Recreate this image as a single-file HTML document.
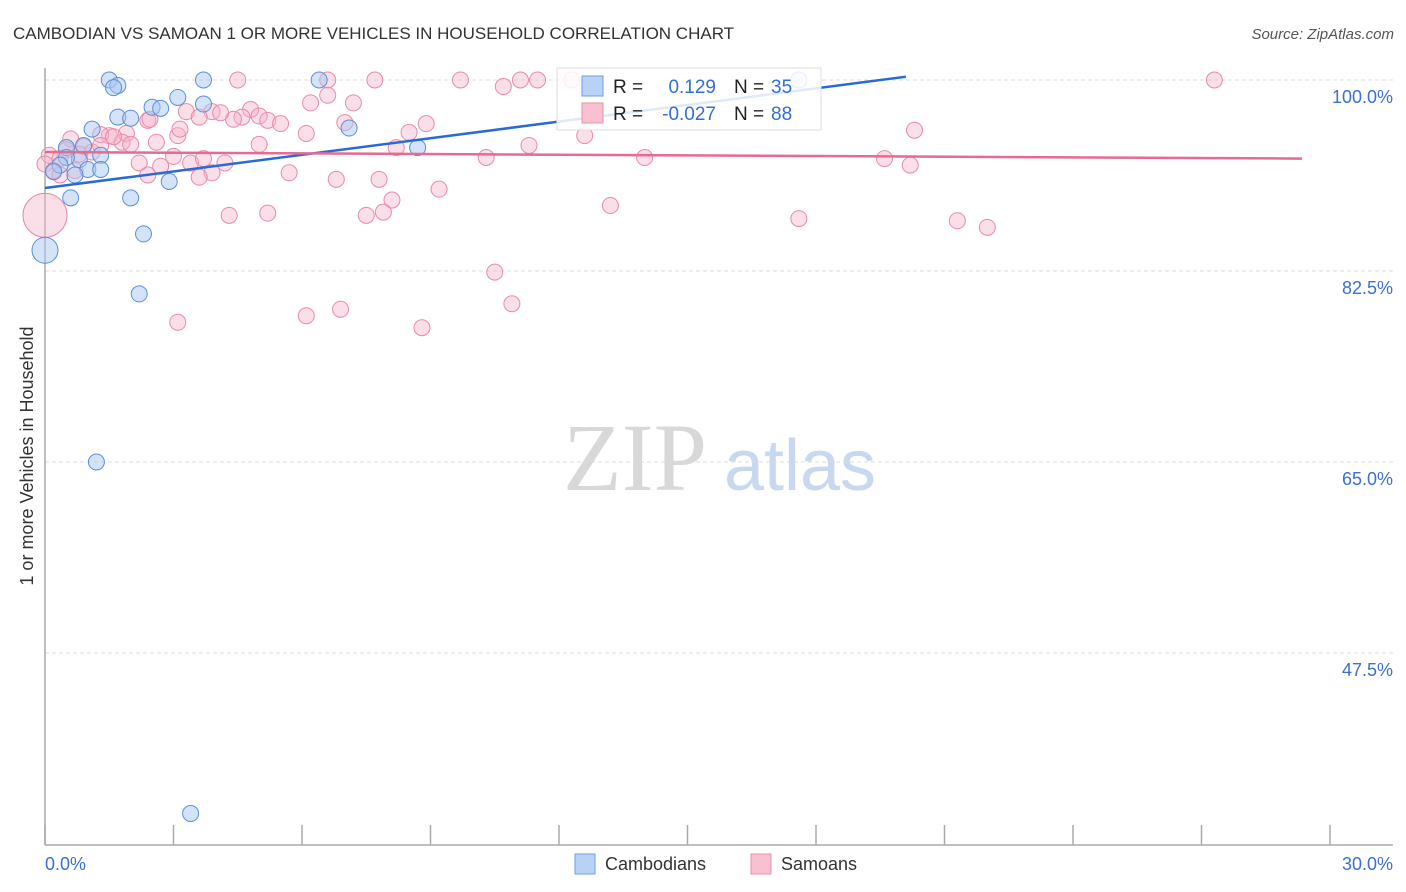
<!DOCTYPE html>
<html><head><meta charset="utf-8"><style>
body{margin:0;background:#fff;font-family:"Liberation Sans",sans-serif}
#wrap{position:relative;width:1406px;height:892px;overflow:hidden}
</style></head><body><div id="wrap">
<svg id="svg" width="1406" height="892" xmlns="http://www.w3.org/2000/svg" font-family="Liberation Sans, sans-serif">
<text x="13" y="39" font-size="17" fill="#333">CAMBODIAN VS SAMOAN 1 OR MORE VEHICLES IN HOUSEHOLD CORRELATION CHART</text>
<text x="1394" y="39" font-size="15" fill="#555" font-style="italic" text-anchor="end">Source: ZipAtlas.com</text>
<text x="33" y="456" font-size="18" fill="#333" text-anchor="middle" transform="rotate(-90 33 456)">1 or more Vehicles in Household</text>
<g><text x="635" y="490" font-size="96" fill="#d8d8d8" font-family="Liberation Serif, serif" text-anchor="middle">ZIP</text><text x="800" y="490" font-size="72" fill="#c8d8f0" text-anchor="middle">atlas</text></g>
<g id="grid"></g><g id="axes"></g><g id="pts"></g><g id="lines"></g>
<g>
<rect x="557" y="68" width="264" height="62" fill="#fff" fill-opacity="0.85" stroke="#ddd"/>
<rect x="582" y="76" width="21" height="20" fill="#b8d2f5" stroke="#6e9ee0"/>
<rect x="582" y="103" width="21" height="20" fill="#f8c0d0" stroke="#ea90aa"/>
<text x="613" y="93" font-size="19" fill="#222">R =</text><text x="716" y="93" font-size="19" fill="#2f6fd6" text-anchor="end">0.129</text>
<text x="734" y="93" font-size="19" fill="#222">N =</text><text x="771" y="93" font-size="19" fill="#2f6fd6">35</text>
<text x="613" y="120" font-size="19" fill="#222">R =</text><text x="716" y="120" font-size="19" fill="#2f6fd6" text-anchor="end">-0.027</text>
<text x="734" y="120" font-size="19" fill="#222">N =</text><text x="771" y="120" font-size="19" fill="#2f6fd6">88</text>
</g>
<g>
<rect x="575" y="854" width="20" height="20" fill="#b8d2f5" stroke="#6e9ee0"/>
<text x="605" y="870" font-size="18" fill="#333">Cambodians</text>
<rect x="751" y="854" width="20" height="20" fill="#f8c0d0" stroke="#ea90aa"/>
<text x="781" y="870" font-size="18" fill="#333">Samoans</text>
</g>
</svg></div>
<script>
const yTicks=[100,82.5,65,47.5];
const yTickLabels=["100.0%","82.5%","65.0%","47.5%"];
const xTickLabels=["0.0%","30.0%"];
const cambX=[1.5,1.7,1.6,3.7,6.4,17.6,3.1,2.5,2.7,3.7,1.7,2.0,7.1,1.1,8.7,0.5,0.9,1.3,0.8,0.5,0.35,0.2,1.0,1.3,0.7,2.9,0.6,2.0,2.3,0.0,2.2,1.2,3.4];
const cambY=[100,99.5,99.3,100,100,100,98.4,97.5,97.4,97.8,96.6,96.5,95.6,95.5,93.8,93.8,94.0,93.1,92.7,92.9,92.2,91.6,91.8,91.8,91.3,90.7,89.2,89.2,85.9,84.4,80.4,65.0,32.8];
const cambR=[8,8,8,8,8,8,8,8,8,8,8,8,8,8,8,8,8,8,8,8,8,8,8,8,8,8,8,8,8,13,8,8,8];
const samX=[4.5,6.6,7.7,9.7,11.1,11.5,12.3,27.3,10.7,6.6,6.2,7.2,4.8,3.9,3.3,4.6,5.0,3.6,5.2,5.5,4.4,7.0,4.1,8.9,8.5,6.1,1.9,1.5,1.3,0.6,3.1,20.3,2.4,12.6,11.3,5.0,8.2,1.8,2.0,2.6,0.9,1.1,0.5,3.0,2.2,3.4,3.7,4.2,2.7,10.3,14.0,19.6,20.2,0.1,0.35,0.0,2.4,3.9,3.6,5.7,6.8,7.8,9.2,8.1,7.9,7.5,5.2,4.3,13.2,17.6,21.3,22.0,0.2,0.0,10.5,10.9,6.9,6.1,3.1,8.8,0.8,1.6,0.35,1.3,0.7,2.45,3.15];
const samY=[100,100,100,100,100,100,100,100,99.4,98.6,97.9,97.9,97.3,97.1,97.1,96.6,96.7,96.6,96.3,96.0,96.4,96.1,97.0,96.0,95.2,95.1,95.1,94.9,95.0,94.6,94.9,95.4,96.3,94.9,94.0,94.1,93.8,94.3,94.1,94.3,93.9,93.4,93.6,93.0,92.4,92.4,92.8,92.4,92.1,92.9,92.9,92.8,92.2,93.1,92.8,92.3,91.3,91.5,91.1,91.5,90.9,90.9,90.0,89.0,87.9,87.6,87.8,87.6,88.5,87.3,87.1,86.5,91.7,87.6,82.4,79.5,79.0,78.4,77.8,77.3,93.2,94.8,91.3,94.0,91.7,96.4,95.5];
const samR=samX.map((v,i)=>i===73?22:8);
const cambTrend=[90.1,100.3];const cambTrendX=[0,20.1];
const samTrend=[93.4,92.8];const samTrendX=[0,29.35];
const X=v=>45+v/30*1285, Y=v=>80+(100-v)/17.5*191;
const NS="http://www.w3.org/2000/svg";
function mk(t,a,p){const e=document.createElementNS(NS,t);for(const k in a)e.setAttribute(k,a[k]);p.appendChild(e);return e;}
const grid=document.getElementById('grid'),axes=document.getElementById('axes'),pts=document.getElementById('pts'),lines=document.getElementById('lines');
yTicks.forEach((t,i)=>{
 const l=mk('line',{x1:45,x2:1393,y1:Y(t),y2:Y(t),stroke:'#ddd','stroke-dasharray':'4,3'},grid);
 
 
 const tx=mk('text',{x:1393,y:Y(t)+23,'font-size':18,fill:'#3a70d0','text-anchor':'end'},axes);
 tx.textContent=yTickLabels[i];
 
 
});
mk('line',{x1:45,x2:45,y1:68,y2:845,stroke:'#aaa','stroke-width':1.5},axes);
mk('line',{x1:45,x2:1393,y1:845,y2:845,stroke:'#aaa','stroke-width':1.5},axes);
for(let i=0;i<=10;i++){const x=X(i*3);mk('line',{x1:x,x2:x,y1:825,y2:845,stroke:'#aaa','stroke-width':1.5},axes);}
[[0,'start',45],[30,'end',1393]].forEach((d,i)=>{
 const tx=mk('text',{x:d[2],y:870,'font-size':18,fill:'#3a70d0','text-anchor':d[1]},axes);
 tx.textContent=xTickLabels[i];
 
 
});
samX.forEach((v,i)=>{
 const c=mk('circle',{cx:X(v),cy:Y(samY[i]),r:samR[i],fill:'#f5b3c8','fill-opacity':0.42,stroke:'#e98aa8','stroke-width':1},pts);
 
 
});
cambX.forEach((v,i)=>{
 const c=mk('circle',{cx:X(v),cy:Y(cambY[i]),r:cambR[i],fill:'#a9c8f2','fill-opacity':0.5,stroke:'#5a8fdc','stroke-width':1},pts);
 
 
});
const bl=mk('line',{x1:X(cambTrendX[0]),y1:Y(cambTrend[0]),x2:X(cambTrendX[1]),y2:Y(cambTrend[1]),stroke:'#2a6ad6','stroke-width':2.5},lines);


const pl=mk('line',{x1:X(samTrendX[0]),y1:Y(samTrend[0]),x2:X(samTrendX[1]),y2:Y(samTrend[1]),stroke:'#e66a92','stroke-width':2.5},lines);


</script></body></html>
